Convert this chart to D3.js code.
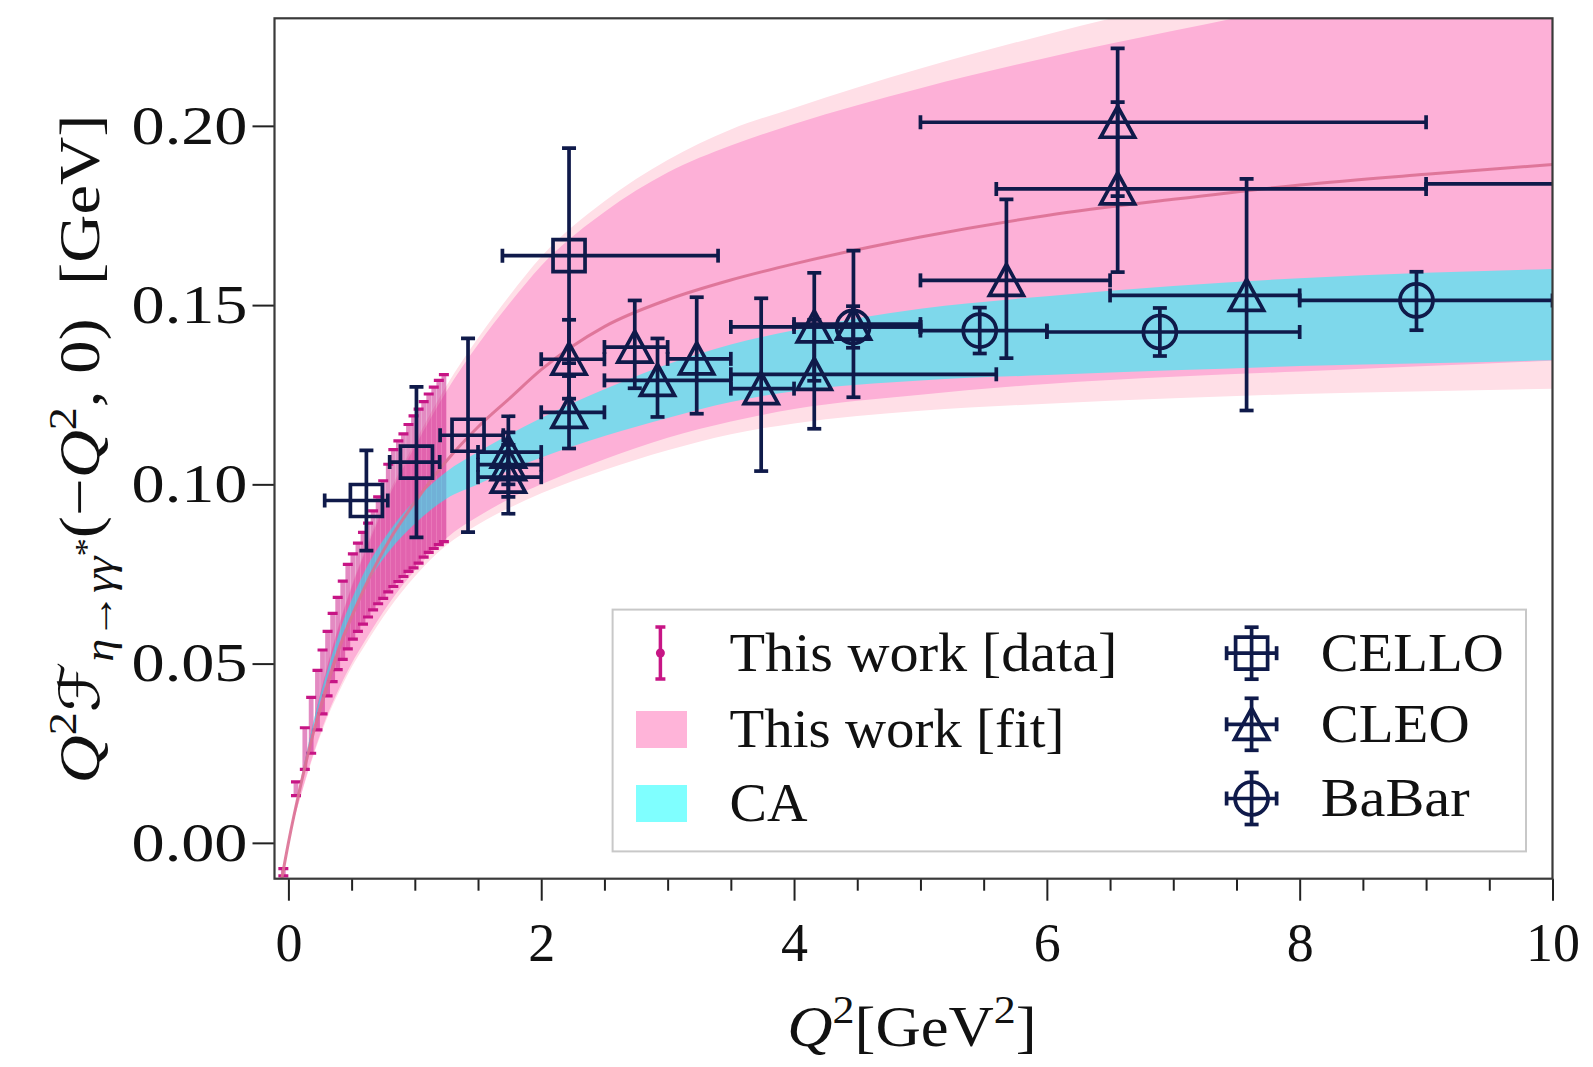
<!DOCTYPE html>
<html><head><meta charset="utf-8">
<script src="https://cdn.jsdelivr.net/npm/d3@7"></script>
<style>
html,body{margin:0;padding:0;background:#fff;}
svg{display:block;}
text{font-family:"Liberation Serif","Times New Roman",serif;fill:#111;}
</style></head><body>
<svg id="chart" width="1593" height="1067"></svg>
<script>
// ---- tick labels ----
const xMajor = [0, 2, 4, 6, 8, 10];
const xMinor = [0.5, 1, 1.5, 2.5, 3, 3.5, 4.5, 5, 5.5, 6.5, 7, 7.5, 8.5, 9, 9.5];
const yTicks = [0.00, 0.05, 0.10, 0.15, 0.20];

// ---- fit bands, tabulated on a Q^2 grid ----
const gridQ2   = [-0.08, 0, 0.1, 0.2, 0.3, 0.4, 0.5, 0.6, 0.8, 1.0, 1.25, 1.5, 1.75, 2.0, 2.5, 3.0, 3.5, 4.0, 5.0, 6.0, 7.0, 8.0, 9.0, 10.0];
const fitMid   = [-0.0155, 0, 0.0165, 0.0310, 0.0430, 0.0540, 0.0630, 0.0710, 0.0845, 0.0950, 0.1065, 0.1160, 0.1240, 0.1320, 0.1440, 0.1515, 0.1570, 0.1615, 0.1690, 0.1750, 0.1795, 0.1835, 0.1865, 0.1892];
const fitHi    = [-0.0150, 0, 0.0180, 0.0340, 0.0480, 0.0605, 0.0712, 0.0805, 0.0970, 0.1105, 0.1260, 0.1390, 0.1505, 0.1610, 0.1760, 0.1870, 0.1945, 0.2005, 0.2105, 0.2190, 0.2265, 0.2335, 0.2390, 0.2440];
const fitLo    = [-0.0160, 0, 0.0135, 0.0250, 0.0350, 0.0430, 0.0500, 0.0560, 0.0670, 0.0760, 0.0850, 0.0910, 0.0960, 0.1000, 0.1070, 0.1130, 0.1175, 0.1210, 0.1250, 0.1280, 0.1300, 0.1315, 0.1330, 0.1345];
const fitHiOut = [-0.0148, 0, 0.0182, 0.0343, 0.0485, 0.0610, 0.0718, 0.0812, 0.0980, 0.1117, 0.1275, 0.1408, 0.1527, 0.1635, 0.1790, 0.1905, 0.1990, 0.2050, 0.2160, 0.2255, 0.2340, 0.2410, 0.2470, 0.2520];
const fitLoOut = [-0.0162, 0, 0.0132, 0.0245, 0.0343, 0.0421, 0.0490, 0.0548, 0.0655, 0.0743, 0.0830, 0.0888, 0.0935, 0.0975, 0.1040, 0.1095, 0.1140, 0.1170, 0.1205, 0.1225, 0.1240, 0.1252, 0.1260, 0.1267];
const caLo     = [-0.0150, 0, 0.0168, 0.0325, 0.0450, 0.0555, 0.0640, 0.0710, 0.0815, 0.0890, 0.0960, 0.1000, 0.1040, 0.1075, 0.1135, 0.1185, 0.1230, 0.1260, 0.1290, 0.1305, 0.1318, 0.1330, 0.1338, 0.1346];
const caHi     = [-0.0145, 0, 0.0176, 0.0340, 0.0472, 0.0585, 0.0678, 0.0755, 0.0870, 0.0955, 0.1035, 0.1090, 0.1140, 0.1185, 0.1265, 0.1335, 0.1390, 0.1430, 0.1490, 0.1525, 0.1553, 0.1575, 0.1590, 0.1601];

// ---- this work, lattice data ----
const thisQ2  = [-0.04, 0.06, 0.13, 0.18, 0.23, 0.27, 0.31, 0.35, 0.39, 0.43, 0.47, 0.51, 0.55, 0.59, 0.63, 0.67, 0.71, 0.75, 0.79, 0.83, 0.87, 0.91, 0.95, 0.99, 1.03, 1.07, 1.11, 1.15, 1.19, 1.23];
const thisVal = [-0.0082, 0.0151, 0.0263, 0.0328, 0.0398, 0.0449, 0.0500, 0.0545, 0.0584, 0.0621, 0.0659, 0.0687, 0.0713, 0.0738, 0.0761, 0.0788, 0.0816, 0.0846, 0.0878, 0.0906, 0.0925, 0.0942, 0.0962, 0.0979, 0.0995, 0.1014, 0.1031, 0.1046, 0.1061, 0.1073];
const thisErr = [0.0010, 0.0019, 0.0058, 0.0078, 0.0083, 0.0089, 0.0090, 0.0095, 0.0101, 0.0109, 0.0118, 0.0119, 0.0123, 0.0128, 0.0131, 0.0138, 0.0149, 0.0164, 0.0178, 0.0191, 0.0196, 0.0199, 0.0205, 0.0212, 0.0215, 0.0217, 0.0221, 0.0225, 0.0229, 0.0233];

// ---- experiments ----
const celloQ2  = [0.617, 1.013, 1.421, 2.22];
const celloVal = [0.0955, 0.1062, 0.1137, 0.1638];
const celloXlo = [0.287, 0.801, 1.20, 1.693];
const celloXhi = [0.786, 1.197, 1.70, 3.399];
const celloElo = [0.014, 0.021, 0.027, 0.030];
const celloEhi = [0.014, 0.021, 0.027, 0.030];

const cleoQ2  = [1.74, 1.74, 1.74, 2.22, 2.22, 2.74, 2.92, 3.23, 3.74, 4.16, 4.16, 4.47, 5.68, 6.56, 6.56, 7.58, 11.2];
const cleoVal = [0.1090, 0.1055, 0.1020, 0.1349, 0.1201, 0.1383, 0.1290, 0.1350, 0.1267, 0.1439, 0.1307, 0.1447, 0.1569, 0.2010, 0.1824, 0.1527, 0.1838];
const cleoXlo = [1.5, 1.5, 1.5, 2.0, 2.0, 2.5, 2.5, 3.0, 3.5, 3.5, 3.5, 4.0, 5.0, 5.0, 5.6, 6.5, 9.0];
const cleoXhi = [2.0, 2.0, 2.0, 2.5, 2.5, 3.0, 3.5, 3.5, 4.0, 5.0, 5.6, 5.0, 6.5, 9.0, 9.0, 8.0, 14.0];
const cleoElo = [0.0090, 0.0090, 0.0102, 0.0110, 0.0101, 0.0115, 0.0102, 0.0153, 0.0230, 0.0150, 0.0152, 0.0204, 0.0217, 0.0206, 0.0232, 0.0321, 0.0300];
const cleoEhi = [0.0100, 0.0090, 0.0090, 0.0110, 0.0101, 0.0130, 0.0117, 0.0172, 0.0252, 0.0151, 0.0152, 0.0205, 0.0226, 0.0206, 0.0242, 0.0325, 0.0300];

const babarQ2  = [4.467, 5.469, 6.894, 8.924];
const babarVal = [0.1439, 0.1429, 0.1425, 0.1513];
const babarXlo = [4.0, 5.0, 6.0, 8.0];
const babarXhi = [5.0, 6.0, 8.0, 10.0];
const babarElo = [0.0058, 0.0064, 0.0067, 0.0083];
const babarEhi = [0.0058, 0.0064, 0.0067, 0.0080];

// ---- layout ----
const PL = 274.5, PR = 1552.5, PT = 18.3, PB = 878.7;
const NAVY = "#0f1a4a", MAGENTA = "#c71585";
const LW = 3.7;

const svg = d3.select("#chart");
const x = d3.scaleLinear().domain([-0.11, 10]).range([PL, PR]);
const y = d3.scaleLinear().domain([-0.01, 0.23]).range([PB, PT]);

svg.append("defs").append("clipPath").attr("id", "plotclip")
  .append("rect").attr("x", PL).attr("y", PT).attr("width", PR - PL).attr("height", PB - PT);

const plot = svg.append("g").attr("clip-path", "url(#plotclip)");

const bandRows = (lo, hi) => gridQ2.map((q, i) => ({ q, lo: lo[i], hi: hi[i] }));
const area = d3.area().x(d => x(d.q)).y0(d => y(d.lo)).y1(d => y(d.hi)).curve(d3.curveMonotoneX);

// fit bands: outer (light) and inner
plot.append("path").datum(bandRows(fitLoOut, fitHiOut)).attr("d", area).attr("fill", "#ffdfe7");
plot.append("path").datum(bandRows(fitLo, fitHi)).attr("d", area).attr("fill", "#fdb0d7");

// lattice data error bars
const lat = plot.append("g");
thisQ2.forEach((q, i) => {
  const cx = x(q), y1 = y(thisVal[i] + thisErr[i]), y0 = y(thisVal[i] - thisErr[i]);
  lat.append("line").attr("x1", cx).attr("x2", cx).attr("y1", y1).attr("y2", y0)
    .attr("stroke", MAGENTA).attr("stroke-opacity", 0.5).attr("stroke-width", 4.8);
});

// CA band
plot.append("path").datum(bandRows(caLo, caHi)).attr("d", area).attr("fill", "cyan").attr("fill-opacity", 0.5);

// fit central curve
const line = d3.line().x((d, i) => x(gridQ2[i])).y(d => y(d)).curve(d3.curveMonotoneX);
plot.append("path").datum(fitMid).attr("d", line).attr("fill", "none")
  .attr("stroke", "palevioletred").attr("stroke-width", 3).attr("stroke-opacity", 0.9);

// caps of the lattice data
thisQ2.forEach((q, i) => {
  const cx = x(q);
  [thisVal[i] + thisErr[i], thisVal[i] - thisErr[i]].forEach(v => {
    lat.append("line").attr("x1", cx - 5).attr("x2", cx + 5).attr("y1", y(v)).attr("y2", y(v))
      .attr("stroke", MAGENTA).attr("stroke-width", 3.2);
  });
});

// marker outlines
function markerPath(shape) {
  const p = d3.path();
  if (shape === "square") { p.rect(-16, -16, 32, 32); }
  else if (shape === "triangle") { p.moveTo(0, -16); p.lineTo(-17, 15); p.lineTo(17, 15); p.closePath(); }
  else { p.arc(0, 0, 16.5, 0, 2 * Math.PI); p.closePath(); }
  return p.toString();
}

function errorPoint(g, px, py, xl, xr, yt, yb, shape) {
  const ln = (a, b, c, d) => g.append("line").attr("x1", a).attr("y1", b).attr("x2", c).attr("y2", d)
    .attr("stroke", NAVY).attr("stroke-width", LW);
  ln(xl, py, xr, py);
  ln(px, yt, px, yb);
  const cap = 7;
  ln(xl, py - cap, xl, py + cap); ln(xr, py - cap, xr, py + cap);
  ln(px - cap, yt, px + cap, yt); ln(px - cap, yb, px + cap, yb);
  g.append("path").attr("d", markerPath(shape)).attr("transform", `translate(${px},${py})`)
    .attr("fill", "none").attr("stroke", NAVY).attr("stroke-width", LW);
}

function drawSeries(q2, val, xlo, xhi, elo, ehi, shape) {
  const g = plot.append("g");
  q2.forEach((q, i) => {
    errorPoint(g, x(q), y(val[i]), x(xlo[i]), x(xhi[i]), y(val[i] + ehi[i]), y(val[i] - elo[i]), shape);
  });
}
drawSeries(celloQ2, celloVal, celloXlo, celloXhi, celloElo, celloEhi, "square");
drawSeries(cleoQ2, cleoVal, cleoXlo, cleoXhi, cleoElo, cleoEhi, "triangle");
drawSeries(babarQ2, babarVal, babarXlo, babarXhi, babarElo, babarEhi, "circle");

// ---- axes ----
const axisStyle = g => {
  g.select(".domain").remove();
  g.selectAll(".tick line").attr("stroke", "#222").attr("stroke-width", 2);
  g.selectAll(".tick text").style("font-size", "54px").attr("fill", "#111");
};
svg.append("g").attr("transform", `translate(0,${PB})`)
  .call(d3.axisBottom(x).tickValues(xMinor).tickSize(12).tickFormat(""))
  .call(axisStyle);
svg.append("g").attr("transform", `translate(0,${PB})`)
  .call(d3.axisBottom(x).tickValues(xMajor).tickSize(22).tickPadding(22).tickFormat(d3.format("d")))
  .call(axisStyle);
svg.append("g").attr("transform", `translate(${PL},0)`)
  .call(d3.axisLeft(y).tickValues(yTicks).tickSize(22).tickPadding(5).tickFormat(d3.format(".2f")))
  .call(axisStyle)
  .call(g => g.selectAll(".tick text").attr("textLength", 116).attr("lengthAdjust", "spacingAndGlyphs"));

svg.append("rect").attr("x", PL).attr("y", PT).attr("width", PR - PL).attr("height", PB - PT)
  .attr("fill", "none").attr("stroke", "#3a3a3a").attr("stroke-width", 2.2);

// ---- axis titles ----
function runs(textSel, parts) {
  parts.forEach(p => {
    const t = textSel.append("tspan").text(p.t);
    if (p.it) t.style("font-style", "italic");
    if (p.size) t.style("font-size", p.size + "px");
    if (p.dy) t.attr("dy", p.dy);
    if (p.fam) t.style("font-family", p.fam);
  });
}
const xt = svg.append("text").attr("transform", "translate(912,1046) scale(1.1,1)").attr("text-anchor", "middle").style("font-size", "57px");
runs(xt, [{ t: "Q", it: 1 }, { t: "2", size: 40, dy: -23 }, { t: "[GeV", dy: 23 }, { t: "2", size: 40, dy: -23 }, { t: "]", dy: 23 }]);

const yt = svg.append("text").attr("transform", "translate(99,449) rotate(-90) scale(1.15,1)").attr("text-anchor", "middle").style("font-size", "58px");
runs(yt, [
  { t: "Q", it: 1 }, { t: "2", size: 40, dy: -23 },
  { t: "\u2131", dy: 23, fam: "'DejaVu Serif','DejaVu Sans',serif", size: 56 },
  { t: "\u03b7\u2192\u03b3\u03b3", it: 1, size: 40, dy: 14 }, { t: "*", size: 32, dy: -16 },
  { t: "(\u2212", dy: 2 }, { t: "Q", it: 1 }, { t: "2", size: 40, dy: -23 },
  { t: ",\u00a00)\u00a0\u00a0[GeV]", dy: 23 }
]);

// ---- legend ----
const lg = svg.append("g");
lg.append("rect").attr("x", 612.6).attr("y", 609.6).attr("width", 913.4).attr("height", 241.8)
  .attr("fill", "#fff").attr("fill-opacity", 0.85).attr("stroke", "#c8c8c8").attr("stroke-width", 2);

// lattice data entry
const lx = 660.4;
lg.append("line").attr("x1", lx).attr("x2", lx).attr("y1", 627).attr("y2", 679).attr("stroke", MAGENTA).attr("stroke-width", 3.5);
[627, 679].forEach(v => lg.append("line").attr("x1", lx - 5).attr("x2", lx + 5).attr("y1", v).attr("y2", v).attr("stroke", MAGENTA).attr("stroke-width", 3.5));
lg.append("circle").attr("cx", lx).attr("cy", 653).attr("r", 4.5).attr("fill", MAGENTA);
lg.append("rect").attr("x", 636).attr("y", 711).attr("width", 51).attr("height", 37).attr("fill", "#ffb4d9");
lg.append("rect").attr("x", 636).attr("y", 785).attr("width", 51).attr("height", 37).attr("fill", "cyan").attr("fill-opacity", 0.5);

const legText = (tx, ty, s, len) => lg.append("text").attr("x", tx).attr("y", ty).style("font-size", "55px")
  .attr("textLength", len).attr("lengthAdjust", "spacingAndGlyphs").text(s);
legText(729.5, 671, "This work [data]", 388);
legText(729.5, 747, "This work [fit]", 335);
legText(729.5, 821, "CA", 78);

const ex = 1251.6;
[[653.2, "square", "CELLO", 183], [724.3, "triangle", "CLEO", 149], [798.5, "circle", "BaBar", 149]].forEach(([cy, shape, name, len]) => {
  errorPoint(lg, ex, cy, ex - 25, ex + 25, cy - 26, cy + 26, shape);
  legText(1320.7, cy + 17.5, name, len);
});
</script></body></html>
